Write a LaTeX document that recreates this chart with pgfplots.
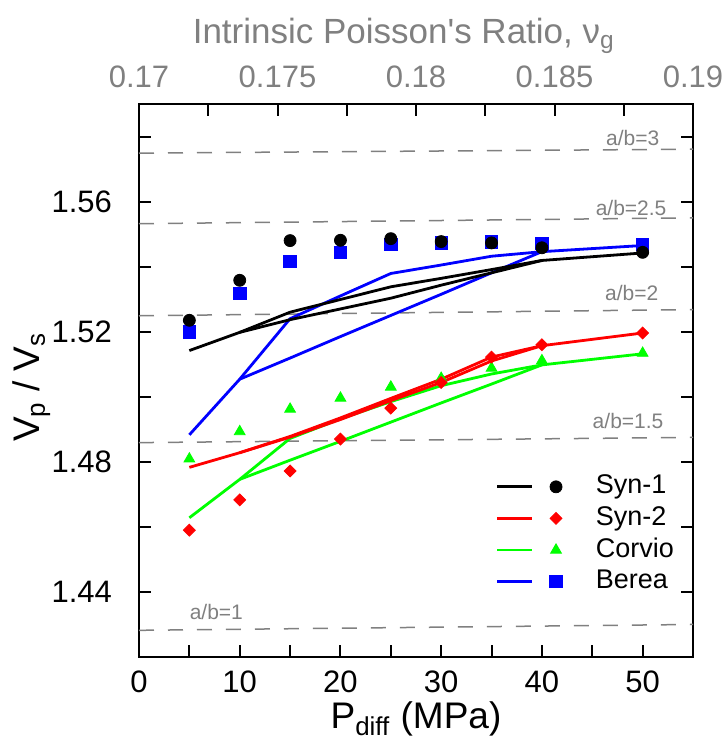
\documentclass[border=0pt]{standalone}
\usepackage{fontspec}
\setmainfont{Liberation Sans}
\usepackage{pgfplots}
\pgfplotsset{compat=1.18}
\definecolor{Grey}{HTML}{808080}
\definecolor{Grn}{HTML}{00FF00}
\definecolor{Blu}{HTML}{0000FF}
\definecolor{Rd}{HTML}{FF0000}

\pgfplotsset{
  loop/.style={line width=1.4pt, mark=none, forget plot},
  ratio/.style={Grey, line width=0.75pt, dash pattern=on 7.5pt off 7pt, forget plot},
}
\tikzset{ablab/.style={Grey, font=\fontsize{10.5}{12}\selectfont, inner sep=0pt}}

\begin{document}
\begin{tikzpicture}
\begin{axis}[
  name=main,
  scale only axis,
  width=277pt, height=276.5pt,
  xmin=0, xmax=55, ymin=1.42, ymax=1.59,
  axis line style={line width=1pt},
  xtick={0,10,...,50}, minor xtick={5,15,...,55},
  ytick={1.44,1.48,1.52,1.56}, minor ytick={1.42,1.46,1.50,1.54,1.58},
  xtick pos=bottom, ytick pos=both,
  tick align=inside,
  major tick length=6pt, minor tick length=6pt,
  every tick/.style={line width=1pt, black},
  /pgf/number format/assume math mode=true,
  tick label style={font=\fontsize{15.5}{18}\selectfont},
  yticklabel={\pgfmathprintnumber[fixed,fixed zerofill,precision=2]{\tick}},
  yticklabel style={xshift=-10pt},
  xticklabel style={yshift=-3.5pt},
  xlabel={P\textsubscript{diff} (MPa)},
  ylabel={V\textsubscript{p} / V\textsubscript{s}},
  label style={font=\fontsize{18.5}{22}\selectfont},
  xlabel style={at={(axis description cs:0.5,-0.129)}, anchor=base},
  ylabel style={at={(axis description cs:-0.194,0.488)}, anchor=center},
  legend style={at={(axis description cs:0.643,0.337)}, anchor=north west,
    draw=none, fill=none, inner sep=0pt, row sep=0pt,
    font=\fontsize{13.5}{16}\selectfont,
    nodes={inner sep=1.4pt, text height=10pt, text depth=3pt}},
  legend cell align=left,
]
% a/b reference lines
\addplot[ratio] coordinates {(0,1.5749) (55,1.5761)};
\addplot[ratio] coordinates {(0,1.5532) (55,1.5550)};
\addplot[ratio] coordinates {(0,1.5249) (55,1.5268)};
\addplot[ratio] coordinates {(0,1.4859) (55,1.4875)};
\addplot[ratio] coordinates {(0,1.4282) (55,1.4300)};
\node[ablab, anchor=east] at (axis cs:51.7,1.5797) {a/b=3};
\node[ablab, anchor=east] at (axis cs:52.4,1.5581) {a/b=2.5};
\node[ablab, anchor=east] at (axis cs:51.6,1.5319) {a/b=2};
\node[ablab, anchor=east] at (axis cs:52.1,1.4927) {a/b=1.5};
\node[ablab, anchor=west] at (axis cs:5.0,1.4338) {a/b=1};

% model loops
\addplot[loop, Grn] coordinates {(5,1.4628) (10,1.4746) (15,1.4872) (20,1.4932) (25,1.4985) (30,1.5034) (35,1.5070) (40,1.5098) (50,1.5132)};
\addplot[loop, Grn] coordinates {(40,1.5098) (35,1.5039) (30,1.4981) (25,1.4922) (20,1.4863) (15,1.4805) (10,1.4746)};
\addplot[loop, Rd] coordinates {(5,1.4783) (10,1.4828) (15,1.4878) (20,1.4935) (25,1.4995) (30,1.5054) (35,1.5122) (40,1.5157) (50,1.5196)};
\addplot[loop, Rd] coordinates {(40,1.5157) (35,1.5110) (30,1.5044) (25,1.4988) (20,1.4930) (15,1.4876) (10,1.4828)};
\addplot[loop, Blu] coordinates {(5,1.4883) (10,1.5054) (15,1.5240) (20,1.5310) (25,1.5379) (30,1.5405) (35,1.5432) (40,1.5446) (50,1.5465)};
\addplot[loop, Blu] coordinates {(40,1.5446) (35,1.5381) (30,1.5315) (25,1.5250) (20,1.5185) (15,1.5119) (10,1.5054)};
\addplot[loop, black] coordinates {(5,1.5142) (10,1.5198) (15,1.5260) (20,1.5299) (25,1.5338) (30,1.5364) (35,1.5391) (40,1.5419) (50,1.5442)};
\addplot[loop, black] coordinates {(40,1.5419) (35,1.5381) (30,1.5343) (25,1.5303) (20,1.5270) (15,1.5237) (10,1.5198)};

% measured data
\addplot[only marks, forget plot, mark=triangle*, mark size=3.1pt, Grn] coordinates {(5,1.4809) (10,1.4893) (15,1.4962) (20,1.4996) (25,1.5030) (30,1.5057) (35,1.5088) (40,1.5111) (50,1.5134)};
\addplot[only marks, forget plot, mark=square*, mark size=2.1pt, mark options={rotate=45}, Rd] coordinates {(5,1.4590) (10,1.4683) (15,1.4772) (20,1.4870) (25,1.4965) (30,1.5044) (35,1.5122) (40,1.5160) (50,1.5196)};
\addplot[only marks, forget plot, mark=square*, mark size=3.1pt, Blu] coordinates {(5,1.5199) (10,1.5317) (15,1.5416) (20,1.5443) (25,1.5468) (30,1.5473) (35,1.5476) (40,1.5471) (50,1.5468)};
\addplot[only marks, forget plot, mark=*, mark size=3pt, black] coordinates {(5,1.5235) (10,1.5358) (15,1.5480) (20,1.5481) (25,1.5486) (30,1.5477) (35,1.5473) (40,1.5458) (50,1.5444)};

\addlegendimage{legend image code/.code={
  \draw[black, line width=1.4pt] (0pt,0pt) -- (17.5pt,0pt);
  \fill[black] plot[mark=*, mark size=3pt] coordinates {(29.5pt,0pt)};
  \path[draw=none] (0pt,0pt) -- (48pt,0pt);}}
\addlegendentry{Syn-1}
\addlegendimage{legend image code/.code={
  \draw[Rd, line width=1.4pt] (0pt,0pt) -- (17.5pt,0pt);
  \fill[Rd] plot[mark=square*, mark size=2.1pt, mark options={rotate=45}] coordinates {(29.5pt,0pt)};
  \path[draw=none] (0pt,0pt) -- (48pt,0pt);}}
\addlegendentry{Syn-2}
\addlegendimage{legend image code/.code={
  \draw[Grn, line width=1.4pt] (0pt,0pt) -- (17.5pt,0pt);
  \fill[Grn] plot[mark=triangle*, mark size=3.1pt] coordinates {(29.5pt,0pt)};
  \path[draw=none] (0pt,0pt) -- (48pt,0pt);}}
\addlegendentry{Corvio}
\addlegendimage{legend image code/.code={
  \draw[Blu, line width=1.4pt] (0pt,0pt) -- (17.5pt,0pt);
  \fill[Blu] plot[mark=square*, mark size=3.1pt] coordinates {(29.5pt,0pt)};
  \path[draw=none] (0pt,0pt) -- (48pt,0pt);}}
\addlegendentry{Berea}
\end{axis}

\begin{axis}[
  scale only axis,
  width=277pt, height=276.5pt,
  xmin=0.17, xmax=0.19, ymin=0, ymax=1,
  axis x line*=top, hide y axis,
  x axis line style={-, line width=1pt},
  xtick={0.17,0.175,0.18,0.185,0.19},
  minor xtick={0.1725,0.1775,0.1825,0.1875},
  tick align=inside,
  major tick length=6pt, minor tick length=6pt,
  every tick/.style={line width=1pt, black},
  scaled x ticks=false,
  /pgf/number format/assume math mode=true,
  xticklabel={\pgfmathprintnumber[fixed,precision=3]{\tick}},
  xticklabel style={Grey, font=\fontsize{15.5}{18}\selectfont, yshift=4.5pt},
  xlabel={Intrinsic Poisson\textquotesingle s Ratio, ν\textsubscript{g}},
  xlabel style={Grey, font=\fontsize{17.5}{21}\selectfont,
    at={(axis description cs:0.478,1.11)}, anchor=base},
]
\end{axis}

\pgfresetboundingbox
\path ([shift={(-69.5pt,-43pt)}]main.south west) rectangle ([shift={(16.5pt,52pt)}]main.north east);
\end{tikzpicture}
\end{document}
